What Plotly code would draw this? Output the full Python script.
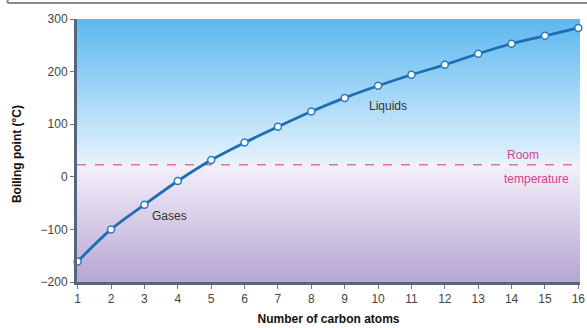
import plotly.graph_objects as go

# boiling points of straight-chain alkanes
carbon_atoms = list(range(1, 17))
boiling_points = [-161, -100, -53, -8, 32, 65, 95, 124, 150, 173, 194, 213, 234, 253, 268, 283]
room_temp = 23
x_ticks = list(range(1, 17))
y_ticks = [-200, -100, 0, 100, 200, 300]
y_tick_text = ["\u2212200", "\u2212100", "0", "100", "200", "300"]

x_lo, x_hi = 1, 16
y_lo, y_hi = -200, 300
xr = [x_lo - 0.02, x_hi + 0.05]

fig = go.Figure()

# background: blue gradient above room temperature, lavender gradient below
fig.add_trace(go.Scatter(
    x=[xr[0], xr[1], xr[1], xr[0], xr[0]],
    y=[room_temp, room_temp, y_hi, y_hi, room_temp],
    mode="none", fill="toself", hoverinfo="skip", showlegend=False,
    fillgradient=dict(type="vertical",
                      colorscale=[[0, "rgb(230,243,252)"], [1, "rgb(92,184,240)"]]),
))
fig.add_trace(go.Scatter(
    x=[xr[0], xr[1], xr[1], xr[0], xr[0]],
    y=[y_lo, y_lo, room_temp, room_temp, y_lo],
    mode="none", fill="toself", hoverinfo="skip", showlegend=False,
    fillgradient=dict(type="vertical",
                      colorscale=[[0, "rgb(182,166,212)"], [1, "rgb(244,240,249)"]]),
))

# room temperature line
fig.add_trace(go.Scatter(
    x=xr, y=[room_temp, room_temp],
    mode="lines", line=dict(color="rgb(226,110,170)", width=1.5, dash="dash"),
    hoverinfo="skip", showlegend=False,
))

# boiling point curve
fig.add_trace(go.Scatter(
    x=carbon_atoms, y=boiling_points,
    mode="lines+markers", line=dict(color="#1f6db4", width=2.8, shape="spline"),
    marker=dict(size=7, color="white", line=dict(color="#2a7cc0", width=1.5)),
    cliponaxis=False, showlegend=False,
))

label_font = dict(family="Liberation Sans, Arial", size=12, color="#333333")
fig.add_annotation(x=10.3, y=135, text="Liquids", showarrow=False, font=label_font)
fig.add_annotation(x=3.76, y=-74, text="Gases", showarrow=False, font=label_font)
pink_font = dict(family="Liberation Sans, Arial", size=12, color="#d9408f")
fig.add_annotation(x=13.8, y=room_temp + 19, text="Room", showarrow=False,
                   font=pink_font, xanchor="left", yanchor="middle")
fig.add_annotation(x=13.72, y=room_temp - 28, text="temperature", showarrow=False,
                   font=pink_font, xanchor="left", yanchor="middle")

# y axis title placed by hand
fig.add_annotation(xref="paper", yref="paper", x=-0.118, y=0.485, textangle=-90,
                   text="<b>Boiling point (°C)</b>", showarrow=False,
                   xanchor="center", yanchor="middle",
                   font=dict(family="Liberation Sans, Arial", size=12, color="#111111"))

# gray frame edge at the very top
fig.add_shape(type="line", xref="paper", yref="paper",
              x0=-0.138, x1=1.02, y0=1.061, y1=1.061,
              line=dict(color="#8a8a8a", width=2))
fig.add_shape(type="line", xref="paper", yref="paper",
              x0=-0.138, x1=-0.138, y0=1.061, y1=1.09,
              line=dict(color="#8a8a8a", width=2))

axis_font = dict(family="Liberation Sans, Arial", size=12, color="#444444")
fig.update_xaxes(
    range=xr, tickvals=x_ticks, showgrid=False, zeroline=False, automargin=False,
    showline=True, linecolor="#55657a", linewidth=3,
    ticks="outside", ticklen=4, tickcolor="#777777", tickfont=axis_font,
    title=dict(text="<b>Number of carbon atoms</b>", standoff=10,
               font=dict(family="Liberation Sans, Arial", size=12, color="#111111")),
)
fig.update_yaxes(
    range=[y_lo, y_hi], tickvals=y_ticks, ticktext=y_tick_text,
    showgrid=False, zeroline=False, automargin=False,
    showline=True, linecolor="#55657a", linewidth=3,
    ticks="outside", ticklen=4, tickcolor="#777777", tickfont=axis_font,
)

fig.update_layout(
    width=587, height=328,
    margin=dict(l=77, r=7, t=19, b=46),
    paper_bgcolor="white", plot_bgcolor="white",
)

# drop the default page margin so the figure sits at the window corner
fig.write_html("out.html", config={"displayModeBar": False},
               post_script="document.body.style.margin='0';")
